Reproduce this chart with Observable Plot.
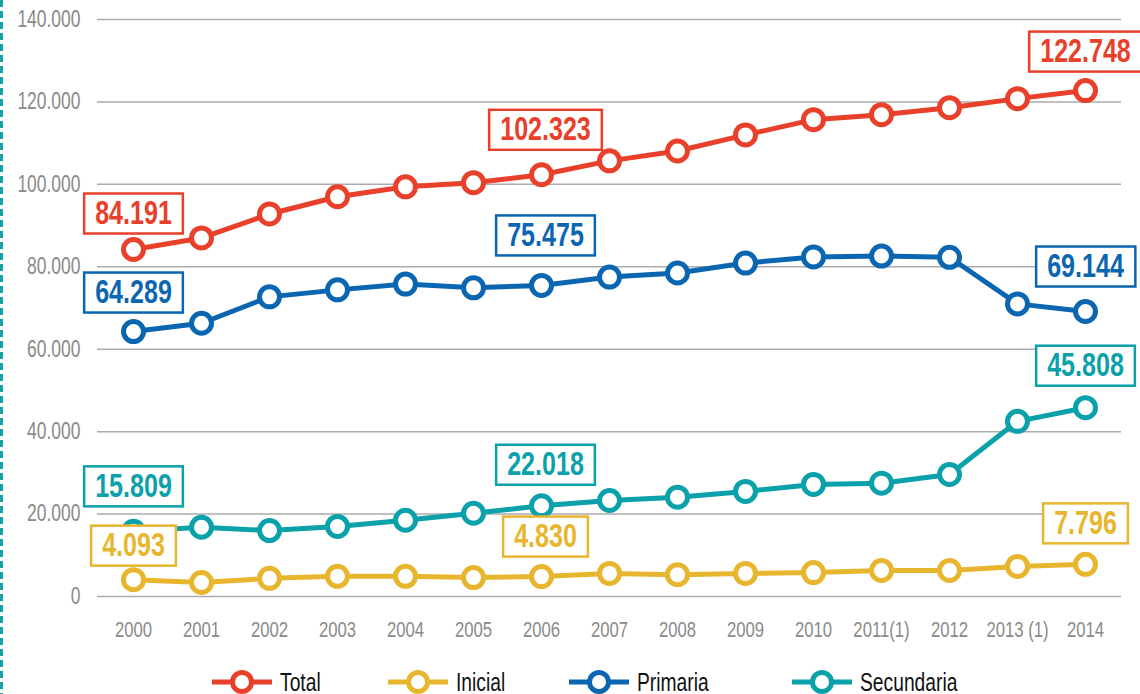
<!DOCTYPE html>
<html>
<head>
<meta charset="utf-8">
<script src="https://cdn.jsdelivr.net/npm/d3@7"></script>
<script src="https://cdn.jsdelivr.net/npm/@observablehq/plot@0.6"></script>
<style>
  html, body { margin: 0; padding: 0; background: #fff; }
  body { width: 1140px; height: 694px; overflow: hidden; position: relative;
         font-family: 'Liberation Sans', Arial, sans-serif; }
  #dash { position: absolute; left: 0; top: 0; width: 3px; height: 694px;
          background: repeating-linear-gradient(to bottom, #14a3ad 0 7px, transparent 7px 11px); }
  #legend { position: relative; height: 44px; }
  .item { position: absolute; top: 19px; height: 26px; display: flex; align-items: center; font-size: 25px; color: #111; }
  .item svg { margin-right: 8px; flex: none; }
  .item span { display: inline-block; transform: scaleX(0.77); transform-origin: left center; white-space: nowrap; line-height: 26px; }
</style>
</head>
<body>
<div id="dash"></div>
<div id="chart"></div>
<div id="legend"></div>
<script>
// ---- data ----
const years = ["2000","2001","2002","2003","2004","2005","2006","2007","2008","2009","2010","2011(1)","2012","2013 (1)","2014"];
const total      = [84191, 87000, 92800, 97000, 99400, 100400, 102323, 105700, 108100, 112000, 115700, 116900, 118600, 120800, 122748];
const inicial    = [4093, 3400, 4400, 4900, 4900, 4600, 4830, 5600, 5300, 5600, 5800, 6300, 6300, 7300, 7796];
const primaria   = [64289, 66300, 72700, 74400, 75800, 74900, 75475, 77500, 78500, 80900, 82400, 82600, 82300, 71000, 69144];
const secundaria = [15809, 16800, 16000, 17000, 18500, 20200, 22018, 23300, 24100, 25500, 27200, 27500, 29600, 42500, 45808];
const seriesNames = ["Total", "Inicial", "Primaria", "Secundaria"];
const labelledYears = ["2000", "2006", "2014"];
const yTicks = [0, 20000, 40000, 60000, 80000, 100000, 120000, 140000];

// ---- styles ----
const colors = {Total: "#e8402a", Inicial: "#e8b62e", Primaria: "#0b66b1", Secundaria: "#0ba1aa"};
const legendLeft = {Total: 212, Inicial: 388, Primaria: 569, Secundaria: 792};
// vertical offsets (px) of the boxed value labels, per series, for the labelled years
const labelDy = {Total: [-36, -45, -39], Inicial: [-34, -40, -41], Primaria: [-39, -50, -45], Secundaria: [-45, -41, -42]};
const labelDx = [0, 4, 0];
const condense = 0.76;

const valuesBySeries = {Total: total, Inicial: inicial, Primaria: primaria, Secundaria: secundaria};
const rows = seriesNames.flatMap(s => years.map((y, i) => ({series: s, year: y, value: valuesBySeries[s][i]})));

const locale = d3.formatLocale({decimal: ",", thousands: ".", grouping: [3], currency: ["", ""]});
const fmt = locale.format(",d");

const marks = [
  Plot.ruleY(yTicks, {stroke: "#ababab", strokeWidth: 1.5}),
  Plot.axisY({ticks: yTicks, tickSize: 0, tickPadding: 17, tickFormat: fmt, fontSize: 23, label: null}),
  Plot.axisX({tickSize: 0, tickPadding: 25, fontSize: 22, label: null})
];
for (const s of seriesNames) {
  const data = rows.filter(d => d.series === s);
  marks.push(Plot.line(data, {x: "year", y: "value", stroke: colors[s], strokeWidth: 5}));
}
for (const s of seriesNames) {
  const data = rows.filter(d => d.series === s);
  marks.push(Plot.dot(data, {x: "year", y: "value", r: 10, fill: "white", stroke: colors[s], strokeWidth: 5}));
}
for (const s of seriesNames) {
  labelledYears.forEach((yr, k) => {
    const data = rows.filter(d => d.series === s && d.year === yr);
    marks.push(Plot.text(data, {x: "year", y: "value", text: d => fmt(d.value), dy: labelDy[s][k], dx: labelDx[k],
      fill: colors[s], fontSize: 33, fontWeight: "bold"}));
  });
}

const chart = Plot.plot({
  width: 1140, height: 650,
  marginLeft: 97, marginRight: 19, marginTop: 19, marginBottom: 54,
  x: {type: "point", domain: years, padding: 0.5, label: null},
  y: {domain: [0, 140000], label: null},
  style: {fontFamily: "'Liberation Sans', Arial, sans-serif", color: "#8a8a8a", background: "white", overflow: "visible"},
  marks
});
document.getElementById("chart").appendChild(chart);

// boxes around value labels
chart.querySelectorAll('g[aria-label="text"]').forEach(g => {
  const stroke = g.getAttribute("fill");
  g.querySelectorAll("text").forEach(t => {
    const b = t.getBBox();
    const r = document.createElementNS("http://www.w3.org/2000/svg", "rect");
    r.setAttribute("x", b.x * condense - 11);
    r.setAttribute("y", -20);
    r.setAttribute("width", b.width * condense + 22);
    r.setAttribute("height", 40);
    r.setAttribute("fill", "white");
    r.setAttribute("stroke", stroke);
    r.setAttribute("stroke-width", 2.5);
    const tr = t.getAttribute("transform");
    if (tr) r.setAttribute("transform", tr);
    g.insertBefore(r, t);
  });
});

// condense all chart text horizontally around its anchor
chart.querySelectorAll("text").forEach(t => {
  let tr = t.getAttribute("transform");
  if (!tr) {
    const x = +(t.getAttribute("x") || 0), y = +(t.getAttribute("y") || 0);
    t.removeAttribute("x"); t.removeAttribute("y");
    tr = `translate(${x},${y})`;
  }
  t.setAttribute("transform", `${tr} scale(${condense},1)`);
});

// legend
const legend = document.getElementById("legend");
for (const s of seriesNames) {
  const item = document.createElement("div");
  item.className = "item";
  item.style.left = legendLeft[s] + "px";
  item.innerHTML = `<svg width="60" height="26"><line x1="0" x2="60" y1="13" y2="13" stroke="${colors[s]}" stroke-width="5"/><circle cx="30" cy="13" r="9.5" fill="white" stroke="${colors[s]}" stroke-width="5"/></svg><span>${s}</span>`;
  legend.appendChild(item);
}
</script>
</body>
</html>
